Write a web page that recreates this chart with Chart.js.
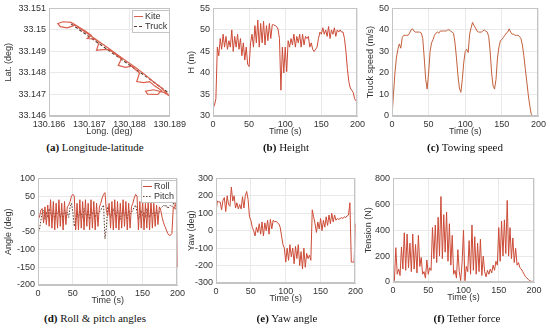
<!DOCTYPE html>
<html><head><meta charset="utf-8">
<script src="https://cdn.jsdelivr.net/npm/chart.js@4/dist/chart.umd.min.js"></script>
<style>
html,body{margin:0;padding:0;background:#fff;}
#wrap{position:relative;width:550px;height:328px;overflow:hidden;background:#fff;}
canvas{position:absolute;}
.cap{position:absolute;font-family:"Liberation Serif","DejaVu Serif",serif;font-size:11px;line-height:13px;color:#111;white-space:nowrap;transform:translateX(-50%);}
.cap b{font-weight:bold;}
</style></head><body>
<div id="wrap">
<canvas id="ca" width="189" height="140" style="left:0px;top:0px"></canvas>
<canvas id="cb" width="185" height="140" style="left:183px;top:0px"></canvas>
<canvas id="cc" width="187" height="140" style="left:362px;top:0px"></canvas>
<canvas id="cd" width="188" height="139" style="left:0px;top:170px"></canvas>
<canvas id="ce" width="183" height="137" style="left:183px;top:170px"></canvas>
<canvas id="cf" width="186" height="136" style="left:360px;top:170px"></canvas>
<div class="cap" style="left:95px;top:141px"><b>(a)</b> Longitude-latitude</div>
<div class="cap" style="left:286px;top:141px"><b>(b)</b> Height</div>
<div class="cap" style="left:465px;top:141px"><b>(c)</b> Towing speed</div>
<div class="cap" style="left:95px;top:312px"><b>(d)</b> Roll &amp; pitch angles</div>
<div class="cap" style="left:287px;top:312px"><b>(e)</b> Yaw angle</div>
<div class="cap" style="left:467px;top:312px"><b>(f)</b> Tether force</div>
</div>
<script>
// ---------- data ----------
const timeS = [0,2,4,6,8,10,12,14,16,18,20,22,24,26,28,30,32,34,36,38,40,42,44,46,48,50,52,54,56,58,60,62,64,66,68,70,72,74,76,78,80,82,84,86,88,90,92,94,96,98,100,102,104,106,108,110,112,114,116,118,120,122,124,126,128,130,132,134,136,138,140,142,144,146,148,150,152,154,156,158,160,162,164,166,168,170,172,174,176,178,180,182,184,186,188,190,192,194,196,198,200];

const heightM = [31.8,32.5,34,46,44,48,45.5,49,46,48.5, 45.5,47.5,46,50,45,48.5,46,49,45.5,48, 44,47,43,46,42,41.5,47,49,46,51, 47,52.3,46,51.5,47,52,46.5,51,47.5,51.5, 48,51.2,51.2,51,50.8,50.2,48,36,46,40, 46,40.3,47.5,46,48,46.5,49,46,48.5,47, 49,46,49,46.5,48.5,48,48.5,46,47,45.5, 45,45.5,46,48,49.5,49,50.5,49,50,48.5, 50.8,48,50,49,50.5,48.5,50,49.5,50,49.5, 49.5,48,45,41,38,36.5,36,35.5,34,33.5, 33.2];

const truckSpeed = [0,10,20,27,31,33.5,31.5,36.5,37.5,37.5, 37.5,37.5,38.5,40,40.5,39.5,39,39,39,39, 38.5,36,27,17,12.5,20,30,34,35.5,37.5, 38.5,39,38.5,39.5,39.5,39.5,39.5,39.5,40,40, 39.5,39,38.5,34,27,19,13,11,17,25, 30,31,29.5,38,41,43.5,42,41,39.5,39, 39,39,39.5,40,39.5,39,37,30,20,14, 12.5,17,27,32,35,35.5,36.5,37.5,38.5,39, 40.5,39,38,38,37.5,37.5,37.5,37,36,33, 28,22,16,10,5,1,0,0,0,0, 0];

const rollDeg = [-5,-10,10,15,-25,20,-30,25,-35,40, -40,35,-45,30,-40,40,-35,30,-45,35, -30,20,25,35,50,55,50,-45,30,-45, 40,-40,35,-45,40,-35,30,-45,40,-40, 35,-45,30,-35,20,30,45,55,60,10, -5,30,-40,35,-45,40,-40,35,-45,30, -40,40,-35,35,-45,30,-40,20,30,45, 55,50,-45,35,-40,40,-45,30,-40,35, -45,40,-40,30,-35,25,-30,20,10,-10, -25,-35,-45,-55,-60,-60,-55,20,15,60, -150];

const pitchDeg = [-50,-45,-20,5,10,-15,5,-10,15,0, -5,10,-15,5,0,10,-10,5,-15,10, 0,5,-10,20,30,5,-35,-20,5,-10, 10,0,-10,15,0,-5,10,-15,5,0, 10,-10,5,0,5,10,20,25,-70,-40, 20,10,-10,5,15,0,-10,10,5,-15, 0,10,-5,5,-15,10,0,5,10,20, 25,5,-15,0,10,-5,5,-10,15,0, -10,10,0,5,-5,10,0,5,15,20, 25,20,25,15,20,25,20,25,85,10, 0];

const yawDeg = [110,170,165,165,120,175,190,110,200,150, 140,250,170,200,130,160,125,150,125,195, 130,200,225,180,80,60,20,0,-30,20, -10,40,-20,50,-30,45,0,60,-20,65, 10,60,50,55,45,40,20,-30,-80,-100, -180,-100,-170,-80,-150,-100,-190,-90,-160,-80, -200,-120,-220,-100,-210,-130,-160,-140,-170,120, 80,40,-10,50,10,70,0,60,20,80, 30,90,40,100,50,90,60,70,65,70, 75,70,80,75,85,90,160,-180,-180,-180, 40];

const tensionN = [5,10,265,60,100,50,270,100,380,90, 370,110,300,80,370,100,290,70,360,120, 190,60,80,30,170,60,110,90,420,180, 440,150,500,200,660,180,520,230,540,160, 450,130,360,60,90,30,250,80,10,150, 400,10,120,80,320,60,440,90,350,60, 300,80,330,50,200,80,40,90,60,100, 70,130,90,160,130,420,160,470,200,480, 220,630,200,420,180,340,150,260,130,150, 110,100,80,60,40,30,20,10,5,5, 5];

const kiteLon = [130.18665,130.18645,130.18628,130.18622,130.18635,130.18655,130.18668,130.18690,130.18705,130.18695,130.18712,130.18725,130.18718,130.18735,130.18748,130.18765,130.18780,130.18772,130.18790,130.18805,130.18815,130.18825,130.18818,130.18835,130.18850,130.18862,130.18880,130.18870,130.18845,130.18840,130.18860,130.18885,130.18898,130.18880,130.18860,130.18840,130.18815,130.18790,130.18765,130.18740,130.18715,130.18690,130.18670];
const kiteLat = [33.15022,33.15010,33.15015,33.15030,33.15038,33.15035,33.15020,33.14995,33.14975,33.14960,33.14958,33.14945,33.14905,33.14908,33.14910,33.14888,33.14865,33.14835,33.14826,33.14832,33.14815,33.14800,33.14760,33.14755,33.14760,33.14740,33.14718,33.14700,33.14702,33.14715,33.14722,33.14710,33.14695,33.14730,33.14758,33.14790,33.14825,33.14858,33.14892,33.14925,33.14958,33.14990,33.15015];
const truckLon = [130.18655,130.18720,130.18790,130.18850,130.18900];
const truckLat = [33.15028,33.14942,33.14850,33.14772,33.14703];

const timeTicks = [0,50,100,150,200];
const lonTicks = [130.186,130.187,130.188,130.189];
const latTicks = [33.146,33.147,33.148,33.149,33.15,33.151];
const heightTicks = [30,35,40,45,50,55];
const speedTicks = [0,10,20,30,40,50];
const angleTicks = [-200,-150,-100,-50,0,50,100];
const yawTicks = [-300,-200,-100,0,100,200,300];
const tensionTicks = [0,200,400,600,800];

// ---------- styling ----------
const FONT = '"Liberation Sans", Arial, sans-serif';
const TXT = '#333333';
const MAIN = '#cc4b37';
const DARK = '#5a3a2e';

function pts(xs, ys){ return xs.map((x,i)=>({x:x, y:ys[i]})); }

function axis(tk, title, size, isX, fmt){
  return {
    type:'linear', min: tk[0], max: tk[tk.length-1],
    afterBuildTicks: s => { s.ticks = tk.map(v=>({value:v})); },
    afterFit: s => { if(isX) s.height = size; else s.width = size; },
    grid:{color:'#e9e9e9', lineWidth:1, drawTicks:false},
    border:{display:true, color:'#c4c4c4'},
    ticks:{font:{family:FONT,size:9}, color:TXT, padding:3, autoSkip:false, maxRotation:0,
           callback: fmt || (v=>String(v))},
    title:{display:true, text:title, font:{family:FONT,size:9}, color:TXT, padding:{top:3,bottom:3}}
  };
}

const frame = {
  id:'frame',
  afterDatasetsDraw(chart){
    const a = chart.chartArea, ctx = chart.ctx;
    ctx.save(); ctx.strokeStyle='#c4c4c4'; ctx.lineWidth=1;
    ctx.strokeRect(Math.round(a.left)+0.5, Math.round(a.top)+0.5, Math.round(a.right-a.left)-1, Math.round(a.bottom-a.top)-1);
    ctx.restore();
  }
};
const boxLegend = {
  id:'boxLegend',
  afterDraw(chart, args, opts){
    if(!opts || !opts.show) return;
    const ctx = chart.ctx, a = chart.chartArea, ds = chart.data.datasets;
    ctx.save();
    ctx.font = '9px ' + FONT;
    const lineW = 9, gap = 2, rowH = 10, padX = 2, padY = 1;
    let tw = 0; ds.forEach(d=>{ tw = Math.max(tw, ctx.measureText(d.label).width); });
    const w = Math.round(padX+lineW+gap+tw+padX), h = padY*2+rowH*ds.length;
    const x0 = Math.round(a.right - w - 1), y0 = Math.round(a.top + 2);
    ctx.fillStyle='#fff'; ctx.fillRect(x0,y0,w,h);
    ctx.strokeStyle='#c4c4c4'; ctx.lineWidth=1; ctx.strokeRect(x0+0.5,y0+0.5,w,h);
    ds.forEach((d,i)=>{
      const cy = y0+padY+rowH*i+rowH/2+0.5;
      ctx.strokeStyle = d.borderColor; ctx.lineWidth = 1; ctx.setLineDash(d.borderDash||[]);
      ctx.beginPath(); ctx.moveTo(x0+padX, cy); ctx.lineTo(x0+padX+lineW, cy); ctx.stroke();
      ctx.setLineDash([]);
      ctx.fillStyle = TXT; ctx.textBaseline='middle'; ctx.textAlign='left';
      ctx.fillText(d.label, x0+padX+lineW+gap, cy);
    });
    ctx.restore();
  }
};

function ds(label, data, color, dash, width){
  return {label:label, data:data, borderColor:color, backgroundColor:color, borderWidth:width||1,
          borderDash:dash||[], pointRadius:0, tension:0, fill:false, showLine:true};
}

function make(id, datasets, xAx, yAx, pad, legend){
  new Chart(document.getElementById(id), {
    type:'line',
    data:{datasets:datasets},
    options:{
      responsive:false, animation:false, devicePixelRatio:1,
      layout:{padding:pad},
      plugins:{legend:{display:false}, tooltip:{enabled:false}, boxLegend:{show:!!legend}},
      scales:{x:xAx, y:yAx}
    },
    plugins:[frame, boxLegend]
  });
}

const lonFmt = v => v.toFixed(3);
const latFmt = v => String(parseFloat(v.toFixed(3)));

// (a)
make('ca',
  [ds('Kite', pts(kiteLon,kiteLat), '#d9604e', [], 1.2), ds('Truck', pts(truckLon,truckLat), DARK, [3,2], 1.2)],
  axis(lonTicks,'Long. (deg)',24,true,lonFmt),
  axis(latTicks,'Lat. (deg)',49,false,latFmt),
  {top:7,right:16,left:0,bottom:0}, true);
// (b)
make('cb', [ds('H', pts(timeS,heightM), MAIN)],
  axis(timeTicks,'Time (s)',24,true), axis(heightTicks,'H (m)',30,false),
  {top:7,right:10,left:0,bottom:0}, false);
// (c)
make('cc', [ds('Speed', pts(timeS,truckSpeed), '#c2603c')],
  axis(timeTicks,'Time (s)',24,true), axis(speedTicks,'Truck speed (m/s)',30,false),
  {top:7,right:9,left:0,bottom:0}, false);
// (d)
make('cd', [ds('Roll', pts(timeS,rollDeg), MAIN), ds('Pitch', pts(timeS,pitchDeg), DARK, [1.5,1.5])],
  axis(timeTicks,'Time (s)',24,true), axis(angleTicks,'Angle (deg)',38,false),
  {top:8,right:10,left:0,bottom:0}, true);
// (e)
make('ce', [ds('Yaw', pts(timeS,yawDeg), MAIN)],
  axis(timeTicks,'Time (s)',24,true), axis(yawTicks,'Yaw (deg)',33,false),
  {top:8,right:10,left:0,bottom:0}, false);
// (f)
make('cf', [ds('Tension', pts(timeS,tensionN), MAIN)],
  axis(timeTicks,'Time (s)',24,true), axis(tensionTicks,'Tension (N)',33,false),
  {top:8,right:12,left:0,bottom:0}, false);
</script>
</body></html>
